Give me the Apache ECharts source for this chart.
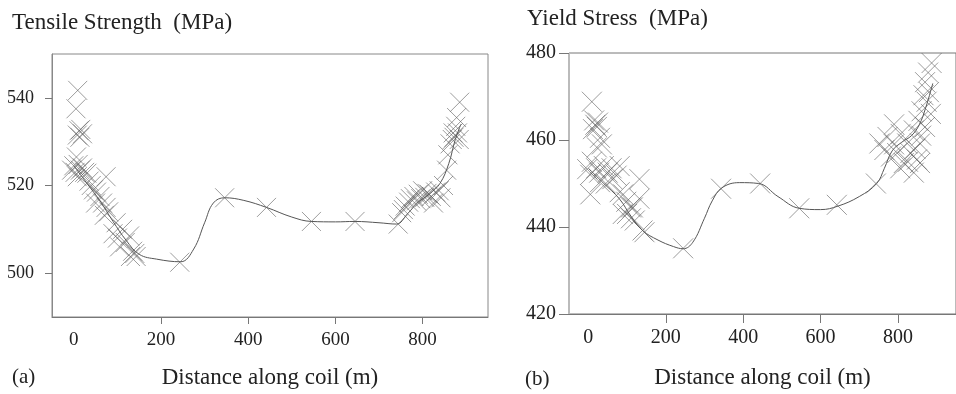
<!DOCTYPE html>
<html>
<head>
<meta charset="utf-8">
<script src="https://cdn.jsdelivr.net/npm/echarts@6/dist/echarts.min.js"></script>
<style>
  html, body { margin: 0; padding: 0; background: #fff; }
  #chart { width: 956px; height: 394px; }
</style>
</head>
<body>
<div id="chart"></div>
<script>
// (a) tensile strength, MPa
var tensileX = [9, 5, 12, 8, 16, 14, 20, 6, 0, -5, 3, 10, 15, 20, 25, 8, 30, 35, 74, 40, 45, 52, 60, 50, 66, 74, 80, 70, 97, 90, 112, 128, 100, 118, 105, 135, 143, 130, 140,
  243, 346, 442, 545, 645, 744,
  752, 760, 756, 768, 772, 780, 786, 790, 796, 800, 805, 810, 815, 820, 825, 830, 838, 842, 848, 855, 858, 863, 868, 870, 872, 876, 880, 884, 878, 885];
var tensileY = [541.7, 537.5, 532.5, 531.5, 532.8, 531, 531.8, 526.5, 524.5, 523.5, 523, 524.8, 523.5, 524, 523, 522, 522.8, 521, 522, 520, 519, 518.5, 517.5, 516, 516, 515, 514, 513.2, 511.5, 509, 510, 508.5, 508, 507, 506, 505, 503.8, 503.8, 504.5,
  502.5, 517.2, 515, 511.8, 511.8, 511.2,
  513.8, 515.3, 514.5, 516.2, 517, 517.5, 516.5, 518, 517, 518.8, 517.3, 518.2, 518, 517.5, 516, 518.5, 518.8, 517.2, 520, 523.5, 527, 529.5, 530.5, 532, 531, 533.5, 532, 530.5, 535.5, 539];
var tensileFitX = [0, 30, 60, 90, 120, 150, 190, 245, 275, 300, 320, 346, 390, 442, 500, 545, 600, 645, 700, 740, 765, 790, 815, 840, 860, 875, 888];
var tensileFitY = [524.5, 520.5, 516.5, 511.8, 507.5, 504.3, 503.2, 502.6, 505.5, 511.5, 516, 517.2, 516.6, 515, 512.8, 511.8, 511.7, 511.8, 511.5, 511.2, 513.5, 516.2, 518, 520.5, 525, 530.5, 534];

// (b) yield stress, MPa
var yieldX = [9, 15, 18, 22, 12, 25, 30, 22, 35, 9, -3, 5, 20, 28, 40, 50, 60, 73, 81, 5, 30, 45, 62, 81, 90, 132, 132, 98, 110, 89, 100, 115, 110, 120, 140, 145,
  245, 343, 444, 545, 642, 743,
  752, 765, 773, 782, 790, 798, 807, 815, 824, 832, 841, 841, 849, 857, 853, 861, 866, 874, 870, 878, 887, 880, 885, 860, 845, 826, 806, 790, 870, 857];
var yieldY = [468.8, 464.5, 463.5, 463, 462.5, 464, 460.5, 458.3, 459, 455, 453.3, 452, 453.5, 452.5, 454, 452.5, 453.5, 451.8, 454, 447.5, 450.3, 450, 451, 448, 447.5, 451, 446.5, 445.8, 444.5, 443, 443, 444.5, 442, 441.5, 439.2, 438.8,
  435.1, 448.8, 450, 444.3, 445.1, 450,
  459.2, 457.7, 460.7, 456.2, 463.6, 457, 461.4, 454.7, 459.2, 457, 452.5, 462.2, 455.5, 459.2, 464.4, 466.6, 470.3, 468.8, 473.3, 475.5, 477.7, 471, 466, 461, 458, 455, 453.5, 459, 463, 454.7];
var yieldFitX = [0, 40, 80, 110, 140, 180, 220, 245, 270, 300, 320, 345, 390, 440, 490, 545, 600, 645, 700, 745, 765, 785, 810, 835, 855, 872, 890];
var yieldFitY = [453.5, 450, 446.5, 442.5, 439.2, 437, 435.5, 435, 436.5, 442, 446, 449, 450.2, 450, 447, 444.3, 444, 444.8, 447, 450, 453.5, 457.5, 459.5, 461, 463.5, 467.5, 473];

var xLabels = [0, 200, 400, 600, 800];
var xTicks = [200, 400, 600, 800];
var tensileTicks = [500, 520, 540];
var yieldTicks = [420, 440, 460, 480];

function pairs(xs, ys) {
  return xs.map(function (x, i) { return [x, ys[i]]; });
}

var serif = '"Liberation Serif", "Times New Roman", serif';
var cross = 'path://M0,0L10,10M10,0L0,10';

var chart = echarts.init(document.getElementById('chart'));

function scatter(idx, xs, ys, size) {
  return {
    type: 'scatter', xAxisIndex: idx, yAxisIndex: idx,
    data: pairs(xs, ys),
    symbol: cross, symbolSize: size,
    itemStyle: { color: 'rgba(0,0,0,0)', borderColor: 'rgba(90,90,90,0.75)', borderWidth: 1 },
    silent: true, z: 3
  };
}
function fit(idx, xs, ys) {
  return {
    type: 'line', xAxisIndex: idx, yAxisIndex: idx,
    data: pairs(xs, ys),
    smooth: 0.4, showSymbol: false,
    lineStyle: { color: '#555', width: 1 },
    silent: true, z: 2
  };
}
function xAxis(idx, tickLen, fs, nameGap) {
  return {
    type: 'value', gridIndex: idx, min: -50, max: 950,
    name: 'Distance along coil (m)', nameLocation: 'middle', nameGap: nameGap,
    nameTextStyle: { fontFamily: serif, fontSize: 23, color: '#222' },
    axisLine: { onZero: false, lineStyle: { color: '#777' } },
    axisTick: { length: tickLen, customValues: xTicks, lineStyle: { color: '#777' } },
    axisLabel: { customValues: xLabels, fontFamily: serif, fontSize: fs, color: '#222', margin: 14 },
    splitLine: { show: false }
  };
}

chart.setOption({
  animation: false,
  grid: [
    { left: 52, top: 54, width: 436, height: 265, show: true, borderColor: '#888', borderWidth: 1 },
    { left: 569, top: 53, width: 395, height: 270, show: true, borderColor: '#777', borderWidth: 1 }
  ],
  xAxis: [xAxis(0, 7, 19, 49), xAxis(1, 9, 20, 52)],
  yAxis: [
    {
      type: 'value', gridIndex: 0, min: 490, max: 550,
      axisLine: { show: true, onZero: false, lineStyle: { color: '#888' } },
      axisTick: { show: true, length: 7, customValues: tensileTicks, lineStyle: { color: '#777' } },
      axisLabel: { customValues: tensileTicks, fontFamily: serif, fontSize: 18, color: '#222', margin: 18 },
      splitLine: { show: false }
    },
    {
      type: 'value', gridIndex: 1, min: 420, max: 480,
      axisLine: { show: true, onZero: false, lineStyle: { color: '#bbb' } },
      axisTick: { show: true, length: 10, customValues: yieldTicks, lineStyle: { color: '#777' } },
      axisLabel: { customValues: yieldTicks, fontFamily: serif, fontSize: 20, color: '#222', margin: 13 },
      splitLine: { show: false }
    }
  ],
  graphic: [
    { type: 'text', left: 12, top: 11, style: { text: 'Tensile Strength  (MPa)', fontFamily: serif, fontSize: 23, fill: '#222' } },
    { type: 'text', left: 527, top: 7, style: { text: 'Yield Stress  (MPa)', fontFamily: serif, fontSize: 23, fill: '#222' } },
    { type: 'text', left: 12, top: 367, style: { text: '(a)', fontFamily: serif, fontSize: 21, fill: '#222' } },
    { type: 'text', left: 525, top: 369, style: { text: '(b)', fontFamily: serif, fontSize: 21, fill: '#222' } }
  ],
  series: [
    fit(0, tensileFitX, tensileFitY),
    scatter(0, tensileX, tensileY, 19),
    fit(1, yieldFitX, yieldFitY),
    scatter(1, yieldX, yieldY, 20)
  ]
});
</script>
</body>
</html>
